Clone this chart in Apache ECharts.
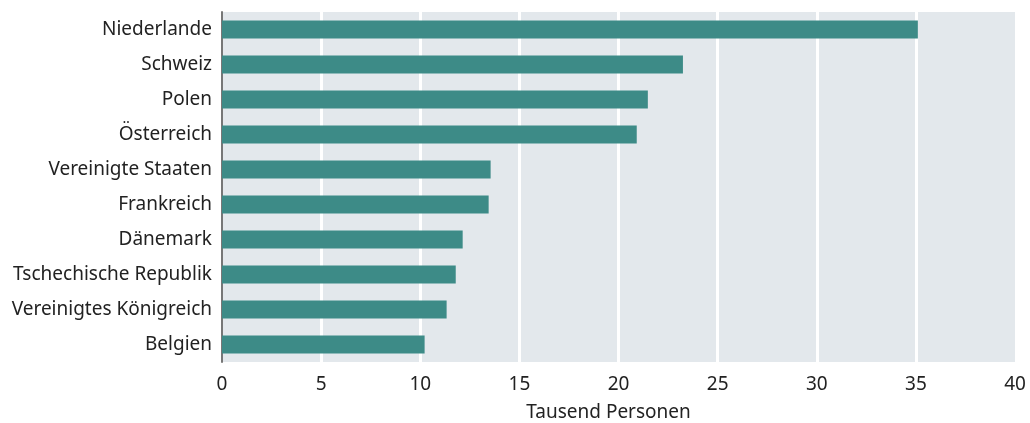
<!DOCTYPE html>
<html>
<head>
<meta charset="utf-8">
<script src="https://cdn.jsdelivr.net/npm/echarts@6/dist/echarts.min.js"></script>
<style>html,body{margin:0;padding:0;background:#fff;}#c{width:1030px;height:423px;}</style>
</head>
<body>
<div id="c"></div>
<script>
const categories = ["Niederlande","Schweiz","Polen","Österreich","Vereinigte Staaten","Frankreich","Dänemark","Tschechische Republik","Vereinigtes Königreich","Belgien"];
const values = [35.1, 23.25, 21.48, 20.92, 13.55, 13.45, 12.14, 11.79, 11.33, 10.22];
const xTicks = [0, 5, 10, 15, 20, 25, 30, 35, 40];
const xName = "Tausend Personen";

const font = "Noto Sans";
const chart = echarts.init(document.getElementById('c'), null, {renderer: 'canvas'});
chart.setOption({
  animation: false,
  backgroundColor: '#ffffff',
  textStyle: {fontFamily: font},
  grid: {left: 222, right: 15, top: 12, bottom: 61, show: true, backgroundColor: '#e3e8ec', borderWidth: 0, containLabel: false, outerBoundsMode: 'none'},
  xAxis: {
    type: 'value', min: xTicks[0], max: xTicks[xTicks.length - 1], interval: 5,
    name: xName, nameLocation: 'middle', nameGap: 41,
    nameTextStyle: {color: '#222', fontSize: 19, fontFamily: font, padding: [0, 20, 0, 0]},
    axisLine: {show: false}, axisTick: {show: false},
    axisLabel: {color: '#222', fontSize: 19, margin: 13, fontFamily: font},
    splitLine: {show: true, showMinLine: false, showMaxLine: false, lineStyle: {color: '#ffffff', width: 3}}
  },
  yAxis: {
    type: 'category', data: categories, inverse: true,
    axisLine: {show: true, lineStyle: {color: '#777', width: 2}},
    axisTick: {show: false},
    axisLabel: {color: '#222', fontSize: 19, margin: 10, fontFamily: font},
    splitLine: {show: false}
  },
  series: [{
    type: 'bar', data: values, barWidth: 18,
    itemStyle: {color: '#3d8b87'}
  }]
});
</script>
</body>
</html>
